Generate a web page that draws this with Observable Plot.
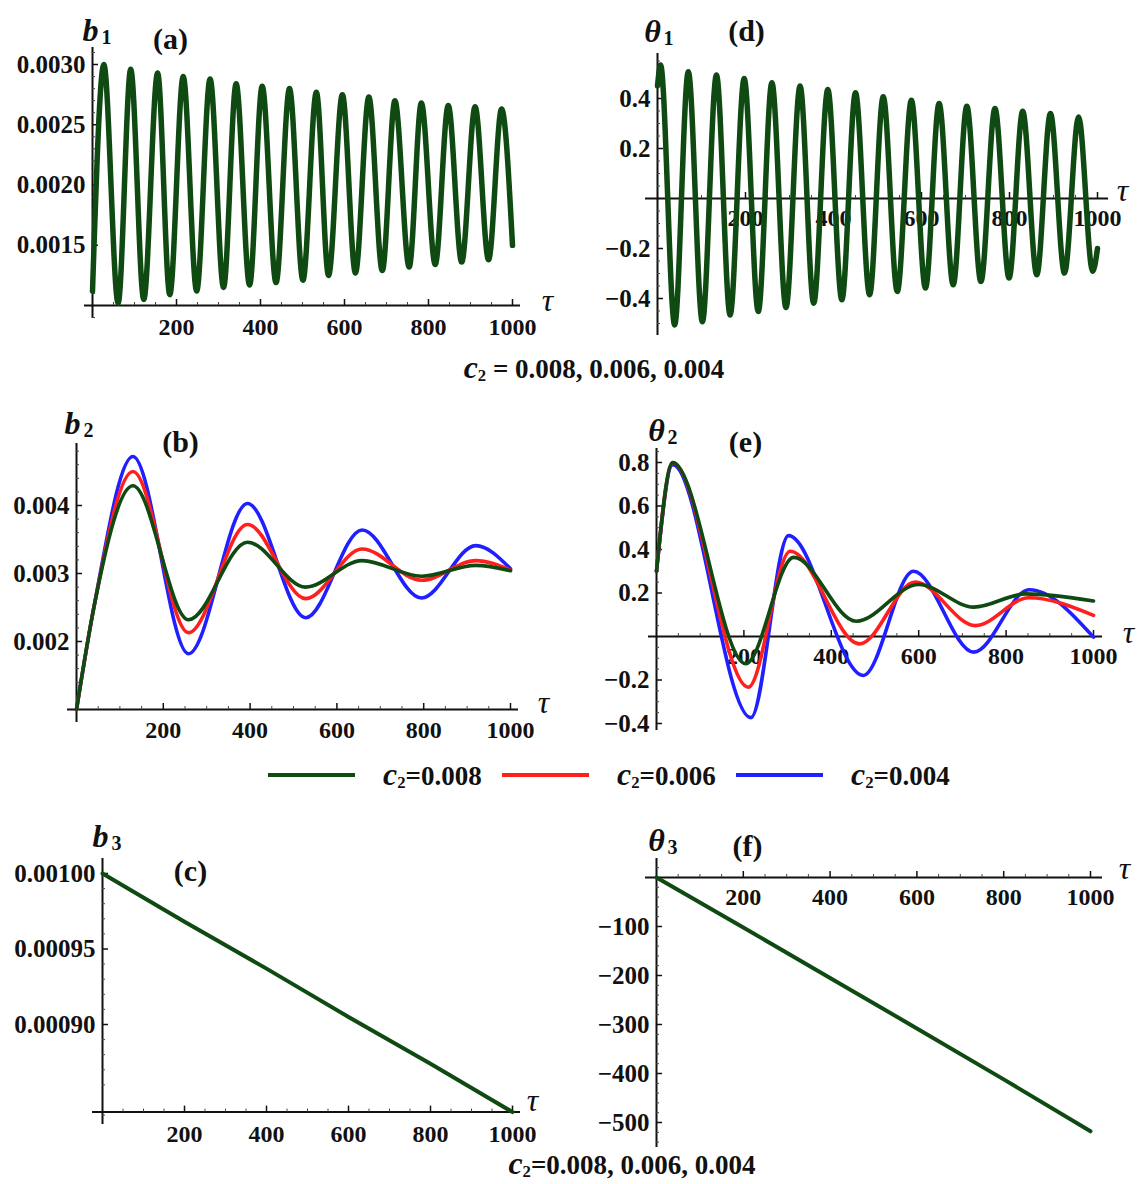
<!DOCTYPE html>
<html>
<head>
<meta charset="utf-8">
<script src="https://cdn.jsdelivr.net/npm/d3@7"></script>
<script src="https://cdn.jsdelivr.net/npm/@observablehq/plot@0.6"></script>
<style>
  body { margin: 0; background: #fff; }
  #fig { position: relative; width: 1138px; height: 1184px; overflow: hidden;
         font-family: "Liberation Serif", "Times New Roman", serif; color: #111; }
  #fig svg { position: absolute; overflow: visible; }
  .cap { position: absolute; font-weight: bold; white-space: nowrap;
         transform: translate(-50%, -50%); line-height: 1; }
  .cap i, .leg i { font-size: 1.18em; }
  .cap sub, .leg sub { font-size: 0.62em; vertical-align: -3px; line-height: 0; }
  .leg { position: absolute; font-weight: bold; font-size: 27px; white-space: nowrap;
         transform: translateY(-50%); line-height: 1; }
  .sw { position: absolute; height: 4px; transform: translateY(-50%); }
</style>
</head>
<body>
<div id="fig"></div>
<script>
// ---- series data: extrema and end points of each response curve ----
const tauB1 = [0, 27, 61, 91, 122, 155, 184, 216, 248, 280, 312, 342, 374, 404, 437, 469, 501,
               533, 562, 595, 626, 658, 690, 720, 754, 783, 816, 847, 879, 911, 943, 974, 1000];
const b1 = [0.00112, 0.00300, 0.00102, 0.00296, 0.00105, 0.00293, 0.00109, 0.00290, 0.00112,
            0.00288, 0.00115, 0.00284, 0.00117, 0.00282, 0.00119, 0.00280, 0.00121, 0.00277,
            0.00125, 0.00275, 0.00127, 0.00273, 0.00129, 0.00270, 0.00132, 0.00268, 0.00134,
            0.00266, 0.00136, 0.00265, 0.00138, 0.00263, 0.00150];

const tauT1 = [0, 7, 39, 70, 102, 134, 165, 197, 229, 260, 292, 324, 355, 387, 419, 450, 482,
               513, 545, 577, 609, 640, 672, 703, 735, 767, 799, 830, 862, 893, 925, 957, 989, 1000];
const theta1 = [0.45, 0.534, -0.506, 0.507, -0.493, 0.494, -0.466, 0.480, -0.452, 0.463, -0.436,
                0.450, -0.419, 0.436, -0.405, 0.423, -0.385, 0.407, -0.372, 0.393, -0.358,
                0.380, -0.345, 0.369, -0.332, 0.360, -0.318, 0.349, -0.305, 0.340, -0.298,
                0.326, -0.291, -0.20];

const tauB2 = [0, 40, 130, 258, 394, 528, 658, 795, 920, 1000];
const b2c008 = [0.0010, 0.0025, 0.00429, 0.00232, 0.00346, 0.00280, 0.00319, 0.00296, 0.00312, 0.00304];
const b2c006 = [0.0010, 0.0025, 0.00450, 0.00213, 0.00372, 0.00263, 0.00336, 0.00290, 0.00319, 0.00305];
const b2c004 = [0.0010, 0.0025, 0.00472, 0.00182, 0.00403, 0.00235, 0.00364, 0.00264, 0.00341, 0.00307];

const tauT2c008 = [0, 37, 204, 314, 457, 600, 726, 845, 1000];
const theta2c008 = [0.30, 0.80, -0.125, 0.364, 0.070, 0.239, 0.135, 0.196, 0.163];
const tauT2c006 = [0, 37, 210, 306, 465, 592, 730, 852, 1000];
const theta2c006 = [0.30, 0.80, -0.233, 0.392, -0.034, 0.250, 0.050, 0.178, 0.097];
const tauT2c004 = [0, 37, 216, 302, 473, 588, 726, 853, 1000];
const theta2c004 = [0.30, 0.79, -0.373, 0.464, -0.179, 0.300, -0.072, 0.215, -0.003];

const tauB3 = [0, 200, 400, 600, 800, 1000];
const b3 = [0.00100, 0.000968, 0.000937, 0.000905, 0.000874, 0.000842];
const tauT3 = [0, 200, 400, 600, 800, 1000];
const theta3 = [0, -102, -205, -308, -412, -518];

// ---- ticks and legend entries ----
const tauTicks = [200, 400, 600, 800, 1000];
const b1Ticks = [0.0015, 0.0020, 0.0025, 0.0030];
const theta1Ticks = [-0.4, -0.2, 0.2, 0.4];
const b2Ticks = [0.002, 0.003, 0.004];
const theta2Ticks = [-0.4, -0.2, 0.2, 0.4, 0.6, 0.8];
const b3Ticks = [0.00090, 0.00095, 0.00100];
const theta3Ticks = [-500, -400, -300, -200, -100];
const c2Labels = ["0.008", "0.006", "0.004"];
const c2Colors = ["#0f4a12", "#ff1f1f", "#1f1fff"];
const [GREEN, RED, BLUE] = c2Colors;

const FONT = "Liberation Serif, Times New Roman, serif";
const minus = s => s.replace("-", "\u2212");
const pts = (t, v) => t.map((x, i) => ({t: x, v: v[i]}));

function minorTicks(lo, hi, step, majorStep, skip) {
  const out = [];
  for (let i = Math.ceil(lo / step - 1e-9); i * step <= hi + 1e-12; i++) {
    const v = i * step;
    const r = v / majorStep;
    if (Math.abs(r - Math.round(r)) < 1e-6) continue;
    if (Math.abs(v - skip) < step * 1e-3) continue;
    out.push(v);
  }
  return out;
}

// One Mathematica-style panel: axes crossing at (0, cross), inward ticks, bold serif labels.
function panel(cfg) {
  const [L, T, W, H] = cfg.box;
  const [t0, t1] = cfg.tauPx;
  const kx = (t1 - t0) / 1000;
  const [[v0, p0], [v1, p1]] = cfg.yRef;
  const ky = (p0 - p1) / (v1 - v0);
  const valAt = px => v0 + (p0 - px) / ky;
  const [xa0, xa1] = cfg.xAxisPx;
  const [ya0, ya1] = cfg.yAxisPx;
  const yDomain = [valAt(ya1), valAt(ya0)];
  const cross = cfg.cross;

  const xMinor = minorTicks(0, 1000, 50, 200, 0);
  const yMinor = minorTicks(yDomain[0], yDomain[1], cfg.yMinorStep, cfg.yMajorStep, cross);

  const marks = [
    Plot.ruleY([cross], {stroke: "#111", strokeWidth: 2}),
    Plot.ruleX([0], {stroke: "#111", strokeWidth: 2}),
    Plot.ruleX(xMinor, {x: d => d, y1: () => cross, y2: () => cross + 3 / ky, stroke: "#444", strokeWidth: 1}),
    Plot.ruleX(tauTicks, {x: d => d, y1: () => cross, y2: () => cross + 6 / ky, stroke: "#111", strokeWidth: 1.5}),
    Plot.ruleY(yMinor, {y: d => d, x1: 0, x2: 3 / kx, stroke: "#444", strokeWidth: 1}),
    Plot.ruleY(cfg.yTicks, {y: d => d, x1: 0, x2: 6 / kx, stroke: "#111", strokeWidth: 1.5}),
    Plot.text(tauTicks, {x: d => d, y: () => cross, dy: cfg.xLabelDy, text: d => String(d),
      fontSize: 24, fontWeight: "bold", fill: "#111"}),
    Plot.text(cfg.yTicks, {x: () => 0, y: d => d, dx: -7, textAnchor: "end", text: cfg.fmt,
      fontSize: 25, fontWeight: "bold", fill: "#111"}),
  ];
  for (const s of cfg.series) {
    marks.push(Plot.line(pts(s.tau, s.val), {x: "t", y: "v", curve: s.curve || "monotone-x",
      stroke: s.color, strokeWidth: s.width}));
  }
  // symbol, subscript, panel letter and τ, centred on page positions (offsets from the frame's top-left)
  const at = (txt, px, py, o) => Plot.text([txt], {frameAnchor: "top-left", text: d => d,
    textAnchor: "middle", lineAnchor: "middle",
    dx: px - xa0, dy: py - ya0, fill: "#111", ...o});
  const [sym, sub] = cfg.symbol;
  marks.push(at(sym, cfg.symPos[0], cfg.symPos[1], {fontSize: 32, fontWeight: "bold", fontStyle: "italic"}));
  marks.push(at(sub, cfg.symPos[0] + 16, cfg.symPos[1] + 7, {fontSize: 20, fontWeight: "bold"}));
  marks.push(at(cfg.letter, cfg.letterPos[0], cfg.letterPos[1], {fontSize: 30, fontWeight: "bold"}));
  marks.push(at("\u03c4", cfg.tauLabelPos[0], cfg.tauLabelPos[1], {fontSize: 32, fontStyle: "italic"}));

  const svg = Plot.plot({
    width: W, height: H,
    marginLeft: xa0 - L, marginRight: L + W - xa1,
    marginTop: ya0 - T, marginBottom: T + H - ya1,
    x: {domain: [(xa0 - t0) / kx, (xa1 - t0) / kx], axis: null},
    y: {domain: yDomain, axis: null},
    style: {fontFamily: FONT, background: "none", overflow: "visible"},
    marks
  });
  svg.style.left = L + "px";
  svg.style.top = T + "px";
  return svg;
}

const fig = document.getElementById("fig");

// (a) b1
fig.append(panel({
  box: [0, 0, 570, 345], tauPx: [92, 512], yRef: [[0.001, 305], [0.003, 64]],
  xAxisPx: [84, 520], yAxisPx: [47, 318], cross: 0.001,
  yTicks: b1Ticks, yMajorStep: 0.0005, yMinorStep: 0.0001, fmt: d => d.toFixed(4), xLabelDy: 22,
  series: [{tau: tauB1, val: b1, color: GREEN, width: 5.5}],
  symbol: ["b", "1"], symPos: [90, 30], letter: "(a)", letterPos: [170, 39], tauLabelPos: [547, 300]
}));

// (d) theta1
fig.append(panel({
  box: [570, 0, 568, 345], tauPx: [657, 1097], yRef: [[0, 198], [0.4, 98]],
  xAxisPx: [645, 1108], yAxisPx: [53, 335], cross: 0,
  yTicks: theta1Ticks, yMajorStep: 0.2, yMinorStep: 0.05, fmt: d => minus(d.toFixed(1)), xLabelDy: 20,
  series: [{tau: tauT1, val: theta1, color: GREEN, width: 5.5}],
  symbol: ["\u03b8", "1"], symPos: [652, 31], letter: "(d)", letterPos: [746, 31], tauLabelPos: [1122, 190]
}));

// (b) b2
fig.append(panel({
  box: [0, 390, 570, 350], tauPx: [76, 510], yRef: [[0.001, 709], [0.004, 505]],
  xAxisPx: [67, 518], yAxisPx: [443, 722], cross: 0.001,
  yTicks: b2Ticks, yMajorStep: 0.001, yMinorStep: 0.0002, fmt: d => d.toFixed(3), xLabelDy: 21,
  series: [
    {tau: tauB2, val: b2c004, color: BLUE, width: 3.6},
    {tau: tauB2, val: b2c006, color: RED, width: 3.6},
    {tau: tauB2, val: b2c008, color: GREEN, width: 3.6}
  ],
  symbol: ["b", "2"], symPos: [72, 423], letter: "(b)", letterPos: [180, 442], tauLabelPos: [543, 702]
}));

// (e) theta2
fig.append(panel({
  box: [570, 390, 568, 350], tauPx: [656, 1093], yRef: [[0, 636], [0.8, 462]],
  xAxisPx: [648, 1102], yAxisPx: [448, 730], cross: 0,
  yTicks: theta2Ticks, yMajorStep: 0.2, yMinorStep: 0.05, fmt: d => minus(d.toFixed(1)), xLabelDy: 20,
  series: [
    {tau: tauT2c004, val: theta2c004, color: BLUE, width: 3.6},
    {tau: tauT2c006, val: theta2c006, color: RED, width: 3.6},
    {tau: tauT2c008, val: theta2c008, color: GREEN, width: 3.6}
  ],
  symbol: ["\u03b8", "2"], symPos: [656, 430], letter: "(e)", letterPos: [745, 442], tauLabelPos: [1128, 632]
}));

// (c) b3
fig.append(panel({
  box: [0, 820, 570, 330], tauPx: [102, 512], yRef: [[0.0009, 1024], [0.001, 873]],
  xAxisPx: [92, 520], yAxisPx: [858, 1124], cross: 0.000842,
  yTicks: b3Ticks, yMajorStep: 0.00005, yMinorStep: 0.00001, fmt: d => d.toFixed(5), xLabelDy: 22,
  series: [{tau: tauB3, val: b3, color: GREEN, width: 4, curve: "linear"}],
  symbol: ["b", "3"], symPos: [100, 836], letter: "(c)", letterPos: [190, 871], tauLabelPos: [532, 1100]
}));

// (f) theta3
fig.append(panel({
  box: [570, 820, 568, 364], tauPx: [656, 1090], yRef: [[0, 877], [-500, 1122]],
  xAxisPx: [645, 1102], yAxisPx: [858, 1147], cross: 0,
  yTicks: theta3Ticks, yMajorStep: 100, yMinorStep: 20, fmt: d => minus(String(d)), xLabelDy: 20,
  series: [{tau: tauT3, val: theta3, color: GREEN, width: 4, curve: "linear"}],
  symbol: ["\u03b8", "3"], symPos: [656, 840], letter: "(f)", letterPos: [747, 846], tauLabelPos: [1124, 868]
}));

// ---- captions and legend ----
function addCap(x, y, size, sep) {
  const d = document.createElement("div");
  d.className = "cap";
  d.style.left = x + "px"; d.style.top = y + "px"; d.style.fontSize = size + "px";
  d.innerHTML = `<i>c</i><sub>2</sub>${sep}=${sep}${c2Labels.join(", ")}`;
  fig.append(d);
}
addCap(594, 368, 27, " ");
addCap(632, 1164, 27, "");

const legendX = [268, 502, 736];
c2Labels.forEach((lab, i) => {
  const sw = document.createElement("div");
  sw.className = "sw";
  sw.style.left = legendX[i] + "px"; sw.style.top = "775px"; sw.style.width = "87px";
  sw.style.background = c2Colors[i];
  fig.append(sw);
  const t = document.createElement("div");
  t.className = "leg";
  t.style.left = (legendX[i] + 115) + "px"; t.style.top = "775px";
  t.innerHTML = `<i>c</i><sub>2</sub>=${lab}`;
  fig.append(t);
});
</script>
</body>
</html>
